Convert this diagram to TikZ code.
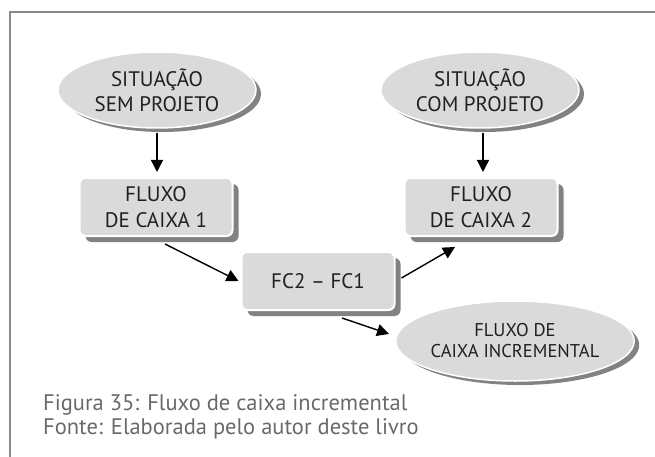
\documentclass[tikz,border=0pt]{standalone}
\usepackage{fontspec}
\setmainfont{PT Sans}
\usetikzlibrary{arrows.meta,positioning,shapes.geometric,shadows}
\definecolor{frameline}{RGB}{138,138,138}
\definecolor{fillg}{RGB}{218,218,218}
\definecolor{shade}{RGB}{130,130,130}
\definecolor{ink}{RGB}{32,32,32}
\definecolor{soft}{RGB}{105,105,105}

\begin{document}
\begin{tikzpicture}[x=1pt,y=-1pt,
    bubble/.style={ellipse, fill=fillg, draw=white, line width=1.5pt,
      minimum width=198pt, minimum height=76pt, inner sep=0pt, align=center,
      text=ink, font=\fontsize{21}{25}\selectfont,
      drop shadow={shadow xshift=5pt, shadow yshift=-4pt, fill=shade, opacity=1}},
    stepbox/.style={rectangle, rounded corners=6pt, fill=fillg, draw=white, line width=2pt,
      minimum width=153pt, minimum height=58pt, inner sep=0pt, align=center,
      text=ink, font=\fontsize{21}{26}\selectfont,
      drop shadow={shadow xshift=6pt, shadow yshift=-6pt, fill=shade, opacity=1}},
    arr/.style={-{Triangle[length=12pt,width=12pt]}, line width=1.4pt, black},
    caption/.style={anchor=base west, text=soft, font=\fontsize{22.5}{24}\selectfont, inner sep=0pt}]
  \useasboundingbox (0,0) rectangle (655,457);
  % frame
  \draw[frameline, line width=2.5pt] (10,458) -- (10,12) -- (656,12);
  % nodes
  \node[bubble] (sem) at (157,90) {SITUAÇÃO\\SEM PROJETO};
  \node[bubble] (com) at (480,90) {SITUAÇÃO\\COM PROJETO};
  \node[stepbox] (fc1) at (156,207) {FLUXO\\DE CAIXA 1};
  \node[stepbox] (fc2) at (481,207) {FLUXO\\DE CAIXA 2};
  \node[stepbox] (diff) at (318,281) {FC2 -- FC1};
  \node[bubble, minimum width=210pt, minimum height=80pt,
    font=\fontsize{18.5}{21}\selectfont] (incr) at (515,341) {FLUXO DE\\CAIXA INCREMENTAL};
  % arrows
  \draw[arr] ([yshift=-4pt]sem.south) -- ([yshift=5pt]sem.south |- fc1.north);
  \draw[arr] ([xshift=3pt,yshift=-4pt]com.south) -- ([xshift=3pt,yshift=5pt]com.south |- fc2.north);
  \draw[arr] ([xshift=9pt,yshift=-7pt]fc1.south) -- ([xshift=-2pt]diff.west);
  \draw[arr] ([xshift=6pt,yshift=3pt]diff.east) -- ([xshift=-26pt,yshift=-10pt]fc2.south);
  \draw[arr] ([xshift=24pt,yshift=-7pt]diff.south) -- ([xshift=-6pt,yshift=7pt]incr.west);
  % caption
  \node[caption] (cap1) at (43,410) {Figura 35: Fluxo de caixa incremental};
  \node[caption] (cap2) at (43,434) {Fonte: Elaborada pelo autor deste livro};
\end{tikzpicture}
\end{document}
